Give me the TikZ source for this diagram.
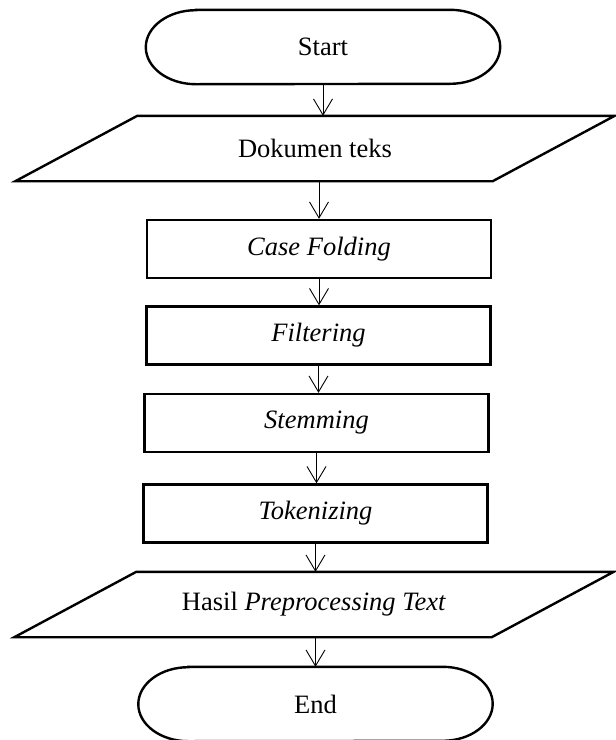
\documentclass[tikz,border=0pt]{standalone}
\usepackage{fontspec}
\setmainfont{Liberation Serif}
\usetikzlibrary{arrows.meta}

\tikzset{
  shapeline/.style={draw=black, line width=2.4pt, line join=miter},
  label font/.style={font=\fontsize{26.5}{30}\selectfont},
  % text boxes whose outlines are drawn separately
  terminal/.style={label font, inner sep=0pt, minimum width=354pt, minimum height=74pt},
  process/.style={shapeline, label font, rectangle, inner sep=0pt,
    minimum width=344pt, minimum height=58pt},
  io/.style={label font, inner sep=0pt, minimum width=599pt, minimum height=65pt},
  flow/.style={draw=black, line width=0.9pt,
    -{Straight Barb[length=16pt,width=19pt,line width=0.9pt]}}
}

% outline of a start/end block: flat top and bottom, elliptic ends
\newcommand{\terminalshape}[1]{%
  \draw[shapeline] ([xshift=50pt]#1.north west) -- ([xshift=-50pt]#1.north east)
    arc[start angle=-90, end angle=90, x radius=50, y radius=37]
    -- ([xshift=50pt]#1.south west)
    arc[start angle=90, end angle=270, x radius=50, y radius=37] -- cycle;}

% outline of an input/output block: parallelogram leaning right
\newcommand{\ioshape}[1]{%
  \draw[shapeline] ([xshift=122pt]#1.north west) -- (#1.north east)
    -- ([xshift=-122pt]#1.south east) -- (#1.south west) -- cycle;}

\begin{document}
\begin{tikzpicture}[x=1pt, y=-1pt]
  \useasboundingbox (0,0) rectangle (616,740);

  % flowchart blocks, top to bottom
  \node[terminal] (start) at (323,47)      {Start};
  \node[io]       (dok)   at (315,148.5)   {Dokumen teks};
  \node[process]  (case)  at (319,249)     {\textit{Case Folding}};
  \node[process]  (filt)  at (318.5,335.5) {\textit{Filtering}};
  \node[process]  (stem)  at (316.5,423)   {\textit{Stemming}};
  \node[process]  (tok)   at (315.5,513.5) {\textit{Tokenizing}};
  \node[io]       (hasil) at (314,604.5)   {Hasil \textit{Preprocessing Text}};
  \node[terminal] (end)   at (315.5,704)   {End};

  \terminalshape{start}
  \ioshape{dok}
  \ioshape{hasil}
  \terminalshape{end}

  % connectors
  \draw[flow] (start.south) -- (start.south |- dok.north);
  \draw[flow] (case.north |- dok.south) -- (case.north);
  \draw[flow] (case.south) -- (case.south |- filt.north);
  \draw[flow] (filt.south) -- (filt.south |- stem.north);
  \draw[flow] (stem.south) -- (stem.south |- tok.north);
  \draw[flow] (tok.south) -- (tok.south |- hasil.north);
  \draw[flow] (tok.south |- hasil.south) -- (tok.south |- end.north);
\end{tikzpicture}
\end{document}
